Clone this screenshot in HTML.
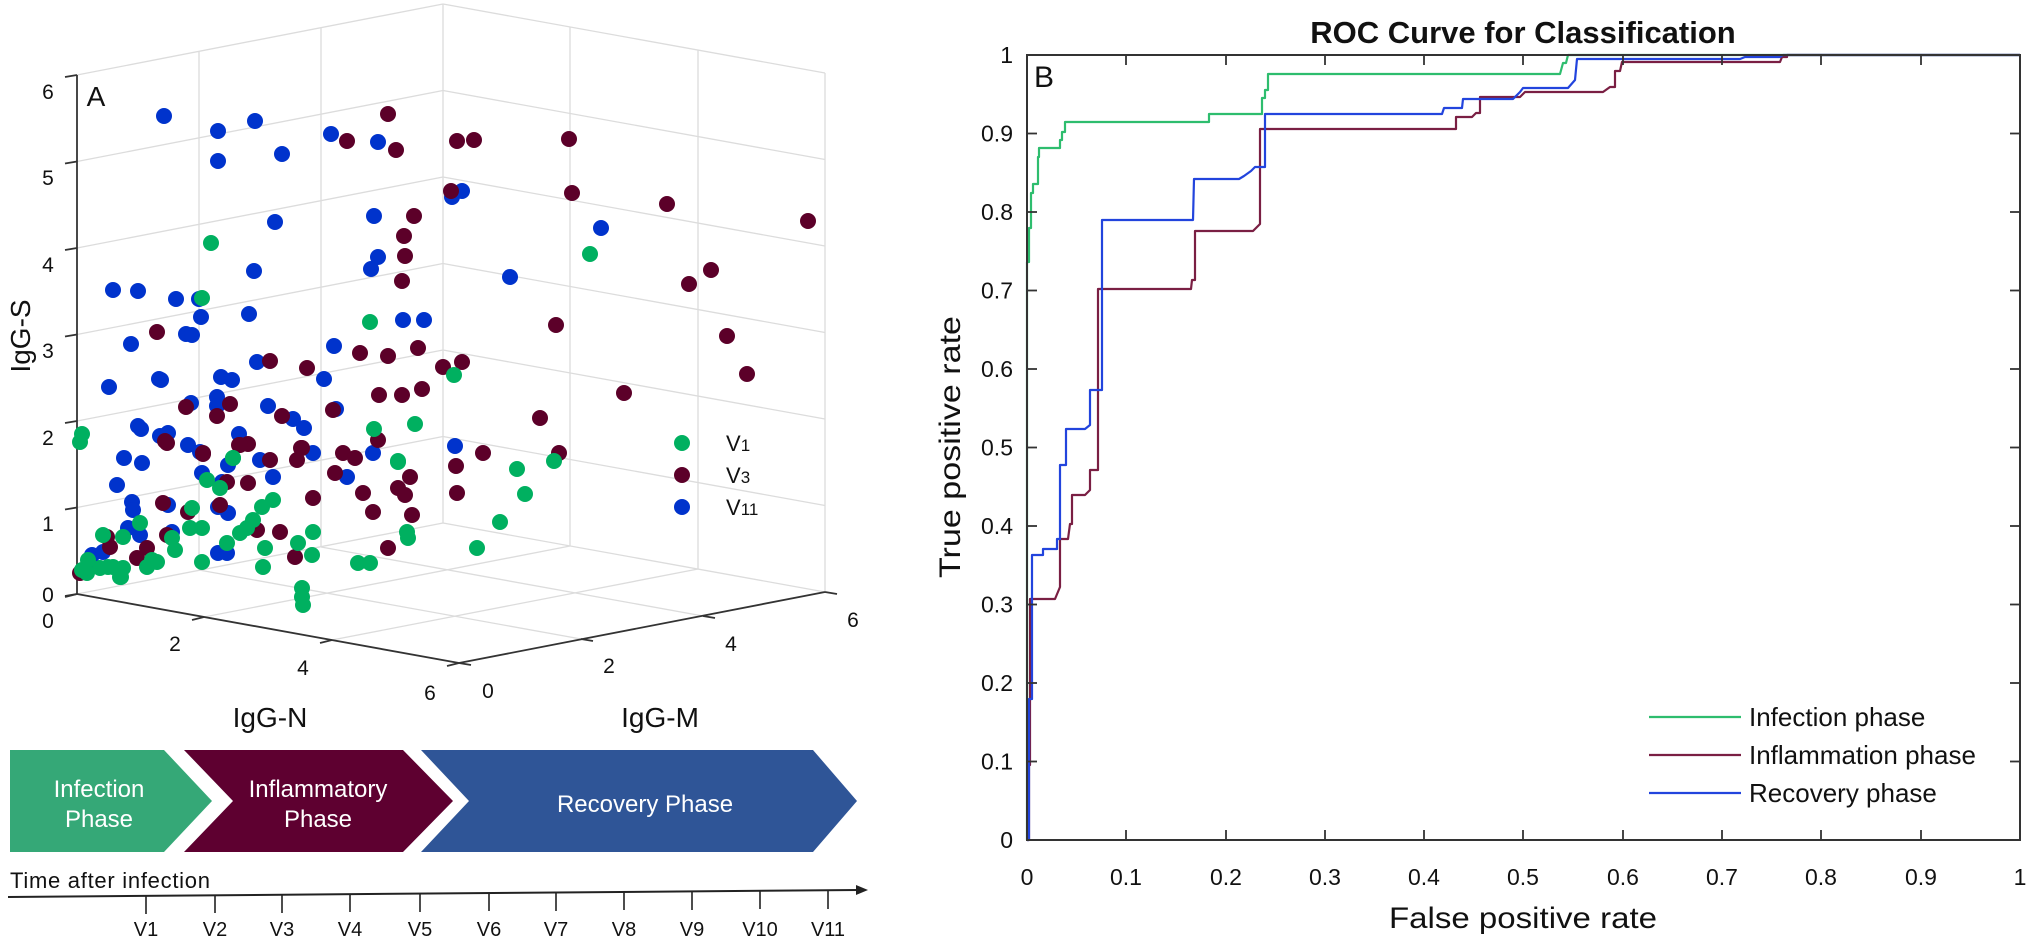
<!DOCTYPE html>
<html><head><meta charset="utf-8"><style>
html,body{margin:0;padding:0;background:#fff;}
svg{display:block;font-family:"Liberation Sans",sans-serif;}
svg circle{}
</style></head><body>
<svg width="2030" height="941" viewBox="0 0 2030 941" xmlns="http://www.w3.org/2000/svg">
<rect width="2030" height="941" fill="#fff"/>
<g stroke="#dcdcdc" stroke-width="1.3" fill="none">
<line x1="77" y1="507.5" x2="443" y2="436.5"/><line x1="77" y1="421" x2="443" y2="350"/>
<line x1="77" y1="334.5" x2="443" y2="263.5"/><line x1="77" y1="248" x2="443" y2="177"/>
<line x1="77" y1="161.5" x2="443" y2="90.5"/><line x1="77" y1="75" x2="443" y2="4"/>
<line x1="443" y1="523" x2="825" y2="592"/><line x1="443" y1="436.5" x2="825" y2="505.5"/>
<line x1="443" y1="350" x2="825" y2="419"/><line x1="443" y1="263.5" x2="825" y2="332.5"/>
<line x1="443" y1="177" x2="825" y2="246"/><line x1="443" y1="90.5" x2="825" y2="159.5"/>
<line x1="443" y1="4" x2="825" y2="73"/>
<line x1="199" y1="570" x2="199" y2="51"/><line x1="321" y1="547" x2="321" y2="28"/>
<line x1="443" y1="523" x2="443" y2="4"/>
<line x1="570" y1="546" x2="570" y2="27"/><line x1="698" y1="569" x2="698" y2="50"/>
<line x1="825" y1="592" x2="825" y2="73"/>
<line x1="77" y1="594" x2="443" y2="523"/>
<line x1="204" y1="617" x2="570" y2="546"/><line x1="332" y1="640" x2="698" y2="569"/>
<line x1="199" y1="570" x2="581" y2="639"/><line x1="321" y1="547" x2="703" y2="616"/>
</g>
<g stroke="#333" stroke-width="1.8" fill="none">
<line x1="77" y1="594" x2="77" y2="75"/>
<line x1="77" y1="594" x2="459" y2="663"/>
<line x1="459" y1="663" x2="825" y2="592"/>
<line x1="77" y1="594" x2="65" y2="596"/><line x1="77" y1="507.5" x2="65" y2="509.5"/>
<line x1="77" y1="421" x2="65" y2="423"/><line x1="77" y1="334.5" x2="65" y2="336.5"/>
<line x1="77" y1="248" x2="65" y2="250"/><line x1="77" y1="161.5" x2="65" y2="163.5"/>
<line x1="77" y1="75" x2="65" y2="77"/>
<line x1="77" y1="594" x2="65" y2="597"/><line x1="204" y1="617" x2="192" y2="620"/>
<line x1="332" y1="640" x2="320" y2="643"/><line x1="459" y1="663" x2="447" y2="666"/>
<line x1="459" y1="663" x2="471" y2="665"/><line x1="581" y1="639" x2="593" y2="641"/>
<line x1="703" y1="616" x2="715" y2="618"/><line x1="825" y1="592" x2="837" y2="594"/>
</g>
<g font-size="21" fill="#111" text-anchor="middle">
<text x="48" y="99">6</text><text x="48" y="185">5</text><text x="48" y="272">4</text>
<text x="48" y="358">3</text><text x="48" y="445">2</text><text x="48" y="531">1</text>
<text x="48" y="602">0</text>
<text x="48" y="628">0</text><text x="175" y="651">2</text><text x="303" y="675">4</text><text x="430" y="700">6</text>
<text x="488" y="698">0</text><text x="609" y="673">2</text><text x="731" y="651">4</text><text x="853" y="627">6</text>
</g>
<text x="96" y="106" font-size="28" fill="#111" text-anchor="middle">A</text>
<text transform="translate(30,336) rotate(-90)" font-size="28" fill="#111" text-anchor="middle">IgG-S</text>
<text x="270" y="727" font-size="28" fill="#111" text-anchor="middle">IgG-N</text>
<text x="660" y="727" font-size="28" fill="#111" text-anchor="middle">IgG-M</text>
<g fill="#0033cc">
<circle cx="164" cy="116" r="8"/><circle cx="218" cy="131" r="8"/><circle cx="255" cy="121" r="8"/><circle cx="218" cy="161" r="8"/><circle cx="282" cy="154" r="8"/><circle cx="331" cy="134" r="8"/><circle cx="378" cy="142" r="8"/><circle cx="275" cy="222" r="8"/><circle cx="374" cy="216" r="8"/><circle cx="378" cy="257" r="8"/><circle cx="371" cy="269" r="8"/><circle cx="254" cy="271" r="8"/><circle cx="113" cy="290" r="8"/><circle cx="138" cy="291" r="8"/><circle cx="176" cy="299" r="8"/><circle cx="199" cy="299" r="8"/><circle cx="201" cy="317" r="8"/><circle cx="249" cy="314" r="8"/><circle cx="403" cy="320" r="8"/><circle cx="424" cy="320" r="8"/><circle cx="131" cy="344" r="8"/><circle cx="186" cy="334" r="8"/><circle cx="192" cy="335" r="8"/><circle cx="334" cy="346" r="8"/><circle cx="257" cy="362" r="8"/><circle cx="109" cy="387" r="8"/><circle cx="159" cy="379" r="8"/><circle cx="161" cy="380" r="8"/><circle cx="221" cy="377" r="8"/><circle cx="232" cy="380" r="8"/><circle cx="324" cy="379" r="8"/><circle cx="191" cy="403" r="8"/><circle cx="217" cy="397" r="8"/><circle cx="217" cy="406" r="8"/><circle cx="268" cy="406" r="8"/><circle cx="336" cy="409" r="8"/><circle cx="293" cy="419" r="8"/><circle cx="304" cy="428" r="8"/><circle cx="138" cy="426" r="8"/><circle cx="141" cy="429" r="8"/><circle cx="160" cy="436" r="8"/><circle cx="168" cy="433" r="8"/><circle cx="239" cy="434" r="8"/><circle cx="455" cy="446" r="8"/><circle cx="452" cy="197" r="8"/><circle cx="462" cy="191" r="8"/><circle cx="510" cy="277" r="8"/><circle cx="601" cy="228" r="8"/>
<circle cx="124" cy="458" r="8"/><circle cx="142" cy="463" r="8"/><circle cx="117" cy="485" r="8"/><circle cx="132" cy="502" r="8"/><circle cx="133" cy="510" r="8"/><circle cx="140" cy="535" r="8"/><circle cx="128" cy="528" r="8"/><circle cx="92" cy="555" r="8"/><circle cx="103" cy="552" r="8"/><circle cx="168" cy="505" r="8"/><circle cx="172" cy="532" r="8"/><circle cx="188" cy="445" r="8"/><circle cx="200" cy="452" r="8"/><circle cx="202" cy="473" r="8"/><circle cx="222" cy="482" r="8"/><circle cx="228" cy="465" r="8"/><circle cx="218" cy="507" r="8"/><circle cx="228" cy="513" r="8"/><circle cx="218" cy="553" r="8"/><circle cx="227" cy="553" r="8"/><circle cx="260" cy="460" r="8"/><circle cx="273" cy="477" r="8"/><circle cx="313" cy="453" r="8"/><circle cx="347" cy="477" r="8"/><circle cx="373" cy="453" r="8"/><circle cx="91" cy="562" r="8"/>
</g>
<g fill="#5c0029">
<circle cx="388" cy="114" r="8"/><circle cx="347" cy="141" r="8"/><circle cx="396" cy="150" r="8"/><circle cx="457" cy="141" r="8"/><circle cx="474" cy="140" r="8"/><circle cx="569" cy="139" r="8"/><circle cx="451" cy="191" r="8"/><circle cx="572" cy="193" r="8"/><circle cx="667" cy="204" r="8"/><circle cx="414" cy="216" r="8"/><circle cx="404" cy="236" r="8"/><circle cx="405" cy="256" r="8"/><circle cx="402" cy="281" r="8"/><circle cx="556" cy="325" r="8"/><circle cx="157" cy="332" r="8"/><circle cx="418" cy="348" r="8"/><circle cx="360" cy="353" r="8"/><circle cx="388" cy="356" r="8"/><circle cx="443" cy="367" r="8"/><circle cx="462" cy="362" r="8"/><circle cx="270" cy="361" r="8"/><circle cx="307" cy="368" r="8"/><circle cx="379" cy="395" r="8"/><circle cx="402" cy="395" r="8"/><circle cx="422" cy="389" r="8"/><circle cx="624" cy="393" r="8"/><circle cx="540" cy="418" r="8"/><circle cx="186" cy="407" r="8"/><circle cx="217" cy="416" r="8"/><circle cx="230" cy="404" r="8"/><circle cx="282" cy="416" r="8"/><circle cx="333" cy="410" r="8"/><circle cx="165" cy="441" r="8"/><circle cx="203" cy="454" r="8"/><circle cx="239" cy="445" r="8"/><circle cx="248" cy="444" r="8"/><circle cx="301" cy="448" r="8"/><circle cx="378" cy="440" r="8"/><circle cx="808" cy="221" r="8"/><circle cx="711" cy="270" r="8"/><circle cx="689" cy="284" r="8"/><circle cx="727" cy="336" r="8"/><circle cx="747" cy="374" r="8"/><circle cx="483" cy="453" r="8"/><circle cx="559" cy="453" r="8"/><circle cx="456" cy="466" r="8"/><circle cx="457" cy="493" r="8"/>
<circle cx="107" cy="537" r="8"/><circle cx="110" cy="547" r="8"/><circle cx="80" cy="573" r="8"/><circle cx="137" cy="558" r="8"/><circle cx="147" cy="548" r="8"/><circle cx="163" cy="503" r="8"/><circle cx="188" cy="512" r="8"/><circle cx="167" cy="535" r="8"/><circle cx="220" cy="505" r="8"/><circle cx="227" cy="482" r="8"/><circle cx="248" cy="483" r="8"/><circle cx="257" cy="530" r="8"/><circle cx="280" cy="532" r="8"/><circle cx="313" cy="498" r="8"/><circle cx="295" cy="557" r="8"/><circle cx="270" cy="460" r="8"/><circle cx="297" cy="460" r="8"/><circle cx="302" cy="448" r="8"/><circle cx="240" cy="445" r="8"/><circle cx="335" cy="473" r="8"/><circle cx="343" cy="453" r="8"/><circle cx="355" cy="458" r="8"/><circle cx="363" cy="493" r="8"/><circle cx="373" cy="512" r="8"/><circle cx="398" cy="488" r="8"/><circle cx="405" cy="495" r="8"/><circle cx="410" cy="477" r="8"/><circle cx="412" cy="515" r="8"/><circle cx="388" cy="548" r="8"/><circle cx="167" cy="443" r="8"/><circle cx="203" cy="453" r="8"/>
</g>
<g fill="#00b060">
<circle cx="211" cy="243" r="8"/><circle cx="202" cy="298" r="8"/><circle cx="370" cy="322" r="8"/><circle cx="454" cy="375" r="8"/><circle cx="590" cy="254" r="8"/><circle cx="82" cy="434" r="8"/><circle cx="374" cy="429" r="8"/><circle cx="415" cy="424" r="8"/><circle cx="233" cy="458" r="8"/><circle cx="398" cy="461" r="8"/><circle cx="517" cy="469" r="8"/><circle cx="525" cy="494" r="8"/><circle cx="554" cy="461" r="8"/><circle cx="500" cy="522" r="8"/><circle cx="477" cy="548" r="8"/>
<circle cx="87" cy="573" r="8"/><circle cx="100" cy="568" r="8"/><circle cx="113" cy="567" r="8"/><circle cx="123" cy="568" r="8"/><circle cx="120" cy="577" r="8"/><circle cx="88" cy="560" r="8"/><circle cx="103" cy="535" r="8"/><circle cx="123" cy="537" r="8"/><circle cx="140" cy="523" r="8"/><circle cx="152" cy="560" r="8"/><circle cx="157" cy="562" r="8"/><circle cx="172" cy="538" r="8"/><circle cx="175" cy="550" r="8"/><circle cx="192" cy="508" r="8"/><circle cx="190" cy="528" r="8"/><circle cx="202" cy="528" r="8"/><circle cx="202" cy="562" r="8"/><circle cx="207" cy="480" r="8"/><circle cx="220" cy="488" r="8"/><circle cx="233" cy="458" r="8"/><circle cx="227" cy="543" r="8"/><circle cx="240" cy="533" r="8"/><circle cx="247" cy="528" r="8"/><circle cx="253" cy="520" r="8"/><circle cx="262" cy="507" r="8"/><circle cx="273" cy="500" r="8"/><circle cx="265" cy="548" r="8"/><circle cx="263" cy="567" r="8"/><circle cx="298" cy="543" r="8"/><circle cx="312" cy="555" r="8"/><circle cx="313" cy="532" r="8"/><circle cx="302" cy="588" r="8"/><circle cx="302" cy="597" r="8"/><circle cx="303" cy="605" r="8"/><circle cx="358" cy="563" r="8"/><circle cx="370" cy="563" r="8"/><circle cx="398" cy="462" r="8"/><circle cx="407" cy="532" r="8"/><circle cx="408" cy="538" r="8"/><circle cx="80" cy="442" r="8"/><circle cx="82" cy="570" r="8"/><circle cx="108" cy="567" r="8"/><circle cx="121" cy="577" r="8"/><circle cx="147" cy="567" r="8"/>
</g>
<circle cx="682" cy="443" r="8" fill="#00b060"/><circle cx="682" cy="475" r="8" fill="#5c0029"/><circle cx="682" cy="507" r="8" fill="#0033cc"/>
<g font-size="22" fill="#111"><text x="726" y="451">V<tspan font-size="17">1</tspan></text><text x="726" y="483">V<tspan font-size="17">3</tspan></text><text x="726" y="515">V<tspan font-size="17">11</tspan></text></g>
<polygon points="10,750 164,750 212,801 164,852 10,852" fill="#35a877"/>
<polygon points="184,750 403,750 453,801 403,852 184,852 233,801" fill="#5e0030"/>
<polygon points="421,750 813,750 857,801 813,852 421,852 469,801" fill="#2f5597"/>
<g font-size="24" fill="#fff" text-anchor="middle">
<text x="99" y="797">Infection</text><text x="99" y="827">Phase</text>
<text x="318" y="797">Inflammatory</text><text x="318" y="827">Phase</text>
<text x="645" y="812">Recovery Phase</text>
</g>
<text x="10" y="888" font-size="22" fill="#111" textLength="200">Time after infection</text>
<line x1="8" y1="897" x2="858" y2="890" stroke="#222" stroke-width="2"/>
<polygon points="868,890 856,885 856,895" fill="#222"/>
<g stroke="#222" stroke-width="1.6">
<line x1="146" y1="896" x2="146" y2="914"/><line x1="215" y1="895" x2="215" y2="913"/><line x1="282" y1="895" x2="282" y2="913"/><line x1="350" y1="894" x2="350" y2="912"/><line x1="420" y1="894" x2="420" y2="912"/><line x1="489" y1="893" x2="489" y2="911"/><line x1="556" y1="893" x2="556" y2="911"/><line x1="624" y1="892" x2="624" y2="910"/><line x1="692" y1="892" x2="692" y2="910"/><line x1="760" y1="891" x2="760" y2="909"/><line x1="828" y1="891" x2="828" y2="909"/>
</g>
<g font-size="20" fill="#111" text-anchor="middle">
<text x="146" y="936">V1</text><text x="215" y="936">V2</text><text x="282" y="936">V3</text><text x="350" y="936">V4</text><text x="420" y="936">V5</text><text x="489" y="936">V6</text><text x="556" y="936">V7</text><text x="624" y="936">V8</text><text x="692" y="936">V9</text><text x="760" y="936">V10</text><text x="828" y="936">V11</text>
</g>
<text x="1523" y="43" font-size="31" font-weight="bold" fill="#111" text-anchor="middle">ROC Curve for Classification</text>
<g fill="none" stroke-width="2.2" stroke-linejoin="round">
<polyline stroke="#2ebd6e" points="1027,840 1027,262 1029,262 1029,228 1031,228 1031,193 1033,193 1033,184 1038,184 1038,157 1039,157 1039,148 1060,148 1060,140 1062,140 1062,132 1065,132 1065,122 1209,122 1209,114 1262,114 1262,98 1265,98 1265,90 1268,90 1268,74 1560,74 1563,63 1566,63 1568,55 2020,55"/>
<polyline stroke="#7a1f43" points="1027,840 1029,840 1029,765 1030,765 1030,599 1055,599 1060,587 1060,539 1068,539 1070,524 1072,524 1072,495 1085,495 1090,490 1090,470 1098,470 1098,289 1191,289 1192,280 1195,280 1195,231 1253,231 1260,224 1260,129 1456,129 1456,117 1472,117 1476,113 1480,113 1480,97 1520,97 1525,92 1603,92 1610,87 1615,87 1615,71 1620,71 1622,62 1780,62 1782,57 1787,57 1787,55 2020,55"/>
<polyline stroke="#2244dd" points="1027,840 1029,840 1029,699 1032,699 1032,555 1043,555 1043,549 1057,549 1057,539 1060,539 1060,465 1066,465 1066,429 1085,429 1090,425 1090,390 1102,390 1102,220 1193,220 1194,179 1239,179 1244,176 1251,171 1255,167 1265,167 1265,114 1442,114 1444,108 1462,108 1463,99 1513,99 1520,92 1523,88 1568,88 1575,80 1577,59 1740,59 1745,57 1780,57 1783,55 2020,55"/>
</g>
<rect x="1027" y="55" width="993" height="785" fill="none" stroke="#333" stroke-width="2"/>
<g stroke="#333" stroke-width="1.8">
<line x1="1126" y1="840" x2="1126" y2="830"/><line x1="1226" y1="840" x2="1226" y2="830"/><line x1="1325" y1="840" x2="1325" y2="830"/><line x1="1424" y1="840" x2="1424" y2="830"/><line x1="1523" y1="840" x2="1523" y2="830"/><line x1="1623" y1="840" x2="1623" y2="830"/><line x1="1722" y1="840" x2="1722" y2="830"/><line x1="1821" y1="840" x2="1821" y2="830"/><line x1="1921" y1="840" x2="1921" y2="830"/>
<line x1="1126" y1="55" x2="1126" y2="65"/><line x1="1226" y1="55" x2="1226" y2="65"/><line x1="1325" y1="55" x2="1325" y2="65"/><line x1="1424" y1="55" x2="1424" y2="65"/><line x1="1523" y1="55" x2="1523" y2="65"/><line x1="1623" y1="55" x2="1623" y2="65"/><line x1="1722" y1="55" x2="1722" y2="65"/><line x1="1821" y1="55" x2="1821" y2="65"/><line x1="1921" y1="55" x2="1921" y2="65"/>
<line x1="1027" y1="761.5" x2="1037" y2="761.5"/><line x1="1027" y1="683" x2="1037" y2="683"/><line x1="1027" y1="604.5" x2="1037" y2="604.5"/><line x1="1027" y1="526" x2="1037" y2="526"/><line x1="1027" y1="447.5" x2="1037" y2="447.5"/><line x1="1027" y1="369" x2="1037" y2="369"/><line x1="1027" y1="290.5" x2="1037" y2="290.5"/><line x1="1027" y1="212" x2="1037" y2="212"/><line x1="1027" y1="133.5" x2="1037" y2="133.5"/>
<line x1="2020" y1="761.5" x2="2010" y2="761.5"/><line x1="2020" y1="683" x2="2010" y2="683"/><line x1="2020" y1="604.5" x2="2010" y2="604.5"/><line x1="2020" y1="526" x2="2010" y2="526"/><line x1="2020" y1="447.5" x2="2010" y2="447.5"/><line x1="2020" y1="369" x2="2010" y2="369"/><line x1="2020" y1="290.5" x2="2010" y2="290.5"/><line x1="2020" y1="212" x2="2010" y2="212"/><line x1="2020" y1="133.5" x2="2010" y2="133.5"/>
</g>
<g font-size="23" fill="#111" text-anchor="end">
<text x="1013" y="848">0</text><text x="1013" y="769.5">0.1</text><text x="1013" y="691">0.2</text><text x="1013" y="612.5">0.3</text><text x="1013" y="534">0.4</text><text x="1013" y="455.5">0.5</text><text x="1013" y="377">0.6</text><text x="1013" y="298.5">0.7</text><text x="1013" y="220">0.8</text><text x="1013" y="141.5">0.9</text><text x="1013" y="63">1</text>
</g>
<g font-size="23" fill="#111" text-anchor="middle">
<text x="1027" y="885">0</text><text x="1126" y="885">0.1</text><text x="1226" y="885">0.2</text><text x="1325" y="885">0.3</text><text x="1424" y="885">0.4</text><text x="1523" y="885">0.5</text><text x="1623" y="885">0.6</text><text x="1722" y="885">0.7</text><text x="1821" y="885">0.8</text><text x="1921" y="885">0.9</text><text x="2020" y="885">1</text>
</g>
<text x="1044" y="87" font-size="30" fill="#111" text-anchor="middle">B</text>
<text x="1523" y="928" font-size="30" fill="#111" text-anchor="middle" textLength="268" lengthAdjust="spacingAndGlyphs">False positive rate</text>
<text transform="translate(960,447) rotate(-90)" font-size="30" fill="#111" text-anchor="middle" textLength="262" lengthAdjust="spacingAndGlyphs">True positive rate</text>
<g stroke-width="2.2">
<line x1="1649" y1="717" x2="1741" y2="717" stroke="#2ebd6e"/>
<line x1="1649" y1="755" x2="1741" y2="755" stroke="#7a1f43"/>
<line x1="1649" y1="793" x2="1741" y2="793" stroke="#2244dd"/>
</g>
<g font-size="26" fill="#111">
<text x="1749" y="726">Infection phase</text><text x="1749" y="764">Inflammation phase</text><text x="1749" y="802">Recovery phase</text>
</g>
</svg>
</body></html>
